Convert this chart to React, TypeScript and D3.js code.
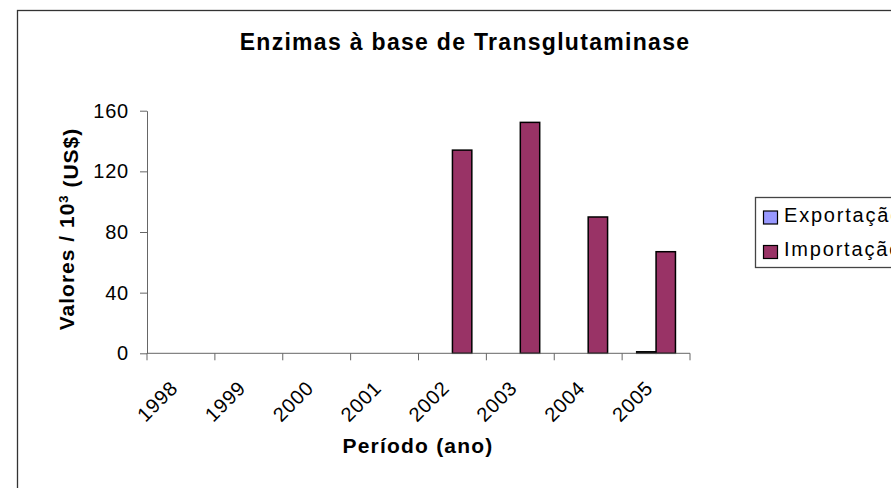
import React, { useEffect, useRef } from "react";
import * as d3 from "d3";

const years = ["1998", "1999", "2000", "2001", "2002", "2003", "2004", "2005"];
const seriesNames = ["Exportação", "Importação"];
const exportValues = [0, 0, 0, 0, 0, 0, 0, 1];
const importValues = [0, 0, 0, 0, 134, 152.3, 89.9, 67];
const yTicks = [0, 40, 80, 120, 160];
const seriesColors = ["#9999FF", "#993366"];

const W = 891;
const H = 488;
const FONT = "'Liberation Sans', Arial, Helvetica, sans-serif";

const TransglutaminaseChart: React.FC = () => {
  const ref = useRef<SVGSVGElement>(null);

  useEffect(() => {
    if (!ref.current) return;
    const svg = d3.select(ref.current);
    svg.selectAll("*").remove();

    const plot = { left: 147, right: 690, top: 110.7, bottom: 353.3 };

    // Chart frame
    svg.append("rect")
      .attr("x", 17.5).attr("y", 10.5)
      .attr("width", 900).attr("height", 500)
      .attr("fill", "#fff")
      .attr("stroke", "#333").attr("stroke-width", 1.3);

    // Title
    svg.append("text")
      .attr("x", 465).attr("y", 50)
      .attr("text-anchor", "middle")
      .style("font-family", FONT)
      .style("font-weight", "bold")
      .style("font-size", "23px")
      .style("letter-spacing", "1.3px")
      .text("Enzimas à base de Transglutaminase");

    const x = d3.scaleBand<string>().domain(years).range([plot.left, plot.right]);
    const xs = d3.scaleBand<string>()
      .domain(seriesNames)
      .range([0, x.bandwidth()])
      .paddingInner(0)
      .paddingOuter(0.75);
    const y = d3.scaleLinear().domain([0, 160]).range([plot.bottom, plot.top]);

    const data = years.map((yr, i) => ({
      year: yr,
      values: [exportValues[i], importValues[i]],
    }));

    // Bars
    const groups = svg.append("g")
      .selectAll("g")
      .data(data)
      .enter()
      .append("g")
      .attr("transform", (d) => `translate(${x(d.year)},0)`);

    groups.selectAll("rect")
      .data((d) => d.values.map((v, j) => ({ name: seriesNames[j], value: v, j })))
      .enter()
      .filter((d) => d.value > 0)
      .append("rect")
      .attr("x", (d) => xs(d.name) || 0)
      .attr("y", (d) => y(d.value))
      .attr("width", xs.bandwidth())
      .attr("height", (d) => plot.bottom - y(d.value))
      .attr("fill", (d) => seriesColors[d.j])
      .attr("stroke", "#000")
      .attr("stroke-width", 1.5);

    // Y axis
    const yAxis = svg.append("g")
      .attr("transform", `translate(${plot.left},0)`)
      .call(d3.axisLeft(y).tickValues(yTicks).tickSize(7).tickPadding(11).tickSizeOuter(0));
    yAxis.select(".domain").attr("stroke", "#666");
    yAxis.selectAll(".tick line").attr("stroke", "#666");
    yAxis.selectAll("text")
      .style("font-family", FONT)
      .style("font-size", "20px")
      .style("letter-spacing", "0.8px")
      .attr("fill", "#000");

    // X axis line and ticks at category boundaries
    const xAxis = svg.append("g");
    xAxis.append("line")
      .attr("x1", plot.left).attr("x2", plot.right)
      .attr("y1", plot.bottom).attr("y2", plot.bottom)
      .attr("stroke", "#666");
    const boundaries = [...years.map((yr) => x(yr) || 0), plot.right];
    xAxis.selectAll(".xtick")
      .data(boundaries)
      .enter()
      .append("line")
      .attr("class", "xtick")
      .attr("x1", (d) => d).attr("x2", (d) => d)
      .attr("y1", plot.bottom).attr("y2", plot.bottom + 7)
      .attr("stroke", "#666");
    xAxis.selectAll(".xlabel")
      .data(years)
      .enter()
      .append("text")
      .attr("class", "xlabel")
      .attr("transform", (d) => `translate(${(x(d) || 0) + x.bandwidth() / 2 - 12},379) rotate(-45)`)
      .attr("text-anchor", "end")
      .attr("dy", "0.72em")
      .style("font-family", FONT)
      .style("font-size", "20px")
      .style("letter-spacing", "0.8px")
      .text((d) => d);

    // Axis titles
    svg.append("text")
      .attr("x", 418).attr("y", 453)
      .attr("text-anchor", "middle")
      .style("font-family", FONT)
      .style("font-weight", "bold")
      .style("font-size", "21px")
      .style("letter-spacing", "1.2px")
      .text("Período (ano)");

    const yTitle = svg.append("text")
      .attr("transform", `translate(74,229) rotate(-90)`)
      .attr("text-anchor", "middle")
      .style("font-family", FONT)
      .style("font-weight", "bold")
      .style("font-size", "21px")
      .style("letter-spacing", "1px");
    yTitle.append("tspan").text("Valores / 10");
    yTitle.append("tspan").attr("dy", "-0.45em").style("font-size", "13px").text("3");
    yTitle.append("tspan").attr("dy", "0.45em").text(" (US$)");

    // Legend
    const legend = svg.append("g");
    legend.append("rect")
      .attr("x", 755.5).attr("y", 197.5)
      .attr("width", 200).attr("height", 70)
      .attr("fill", "#fff")
      .attr("stroke", "#444").attr("stroke-width", 1.3);
    const legendRows = [211, 245.5];
    const baselines = [221.7, 256];
    seriesNames.forEach((name, i) => {
      legend.append("rect")
        .attr("x", 763.5).attr("y", legendRows[i])
        .attr("width", 14).attr("height", 13)
        .attr("fill", seriesColors[i])
        .attr("stroke", "#000").attr("stroke-width", 1.2);
      legend.append("text")
        .attr("x", 784).attr("y", baselines[i])
        .style("font-family", FONT)
        .style("font-size", "20px")
        .style("letter-spacing", "1.8px")
        .text(name);
    });
  }, []);

  return (
    <svg
      ref={ref}
      width={W}
      height={H}
      style={{ position: "absolute", left: 0, top: 0, background: "#fff" }}
    />
  );
};

export default function App() {
  return <TransglutaminaseChart />;
}
